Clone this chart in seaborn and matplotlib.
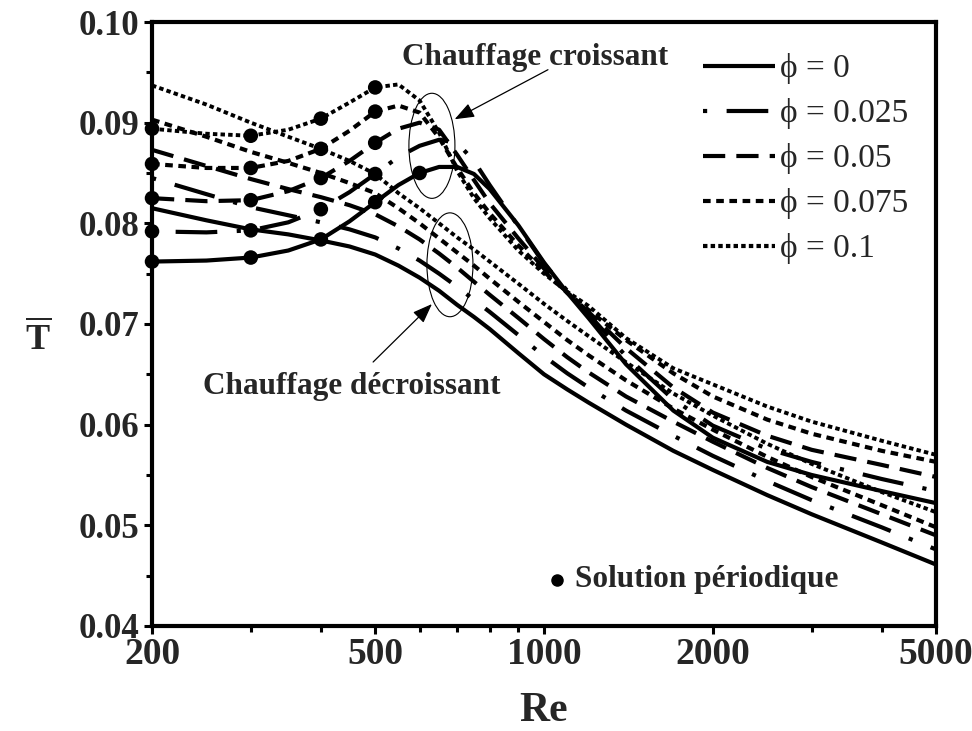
import matplotlib
matplotlib.use("Agg")
import matplotlib.pyplot as plt
import seaborn as sns
from matplotlib.patches import Ellipse
from matplotlib.ticker import FixedLocator, FixedFormatter, NullFormatter

# Reynolds numbers at which the curves are sampled
re_grid = [200, 250, 300, 350, 400, 450, 500, 550, 600, 650, 700, 750, 800,
           900, 1000, 1100, 1200, 1400, 1700, 2000, 2500, 3000, 4000, 5000]

phi_labels = ["\u03d5 = 0", "\u03d5 = 0.025", "\u03d5 = 0.05", "\u03d5 = 0.075", "\u03d5 = 0.1"]

# Mean temperature, increasing heating ("chauffage croissant")
t_inc_0 = [0.0762, 0.0763, 0.0766, 0.0773, 0.0784, 0.0802, 0.0821, 0.0838, 0.0850, 0.0856, 0.0856, 0.0849,
           0.0834, 0.0798, 0.0761, 0.0731, 0.0706, 0.0660, 0.0614, 0.0587, 0.0563, 0.0550, 0.0534, 0.0522]
t_inc_025 = [0.0792, 0.0791, 0.0793, 0.0801, 0.0814, 0.0831, 0.0849, 0.0866, 0.0877, 0.0883, 0.0880, 0.0862,
             0.0838, 0.0797, 0.0760, 0.0733, 0.0710, 0.0668, 0.0625, 0.0599, 0.0576, 0.0563, 0.0546, 0.0534]
t_inc_05 = [0.0825, 0.0822, 0.0823, 0.0832, 0.0845, 0.0862, 0.0880, 0.0894, 0.0900, 0.0893, 0.0868, 0.0843,
            0.0820, 0.0785, 0.0755, 0.0731, 0.0712, 0.0676, 0.0637, 0.0612, 0.0589, 0.0575, 0.0560, 0.0548]
t_inc_075 = [0.0859, 0.0855, 0.0855, 0.0862, 0.0874, 0.0892, 0.0911, 0.0917, 0.0910, 0.0885, 0.0855, 0.0830,
             0.0810, 0.0778, 0.0752, 0.0731, 0.0714, 0.0684, 0.0651, 0.0628, 0.0605, 0.0591, 0.0574, 0.0563]
t_inc_1 = [0.0894, 0.0889, 0.0887, 0.0893, 0.0904, 0.0920, 0.0935, 0.0938, 0.0922, 0.0890, 0.0852, 0.0825,
           0.0805, 0.0773, 0.0750, 0.0732, 0.0718, 0.0686, 0.0656, 0.0640, 0.0618, 0.0603, 0.0584, 0.0570]

# Mean temperature, decreasing heating ("chauffage décroissant")
t_dec_0 = [0.0815, 0.0803, 0.0794, 0.0789, 0.0783, 0.0777, 0.0769, 0.0758, 0.0746, 0.0733, 0.0719, 0.0707,
           0.0695, 0.0671, 0.0650, 0.0635, 0.0622, 0.0600, 0.0574, 0.0555, 0.0530, 0.0511, 0.0483, 0.0461]
t_dec_025 = [0.0845, 0.0829, 0.0816, 0.0808, 0.0801, 0.0794, 0.0786, 0.0775, 0.0763, 0.0750, 0.0737, 0.0724,
             0.0712, 0.0689, 0.0668, 0.0651, 0.0637, 0.0614, 0.0589, 0.0569, 0.0544, 0.0525, 0.0498, 0.0476]
t_dec_05 = [0.0873, 0.0857, 0.0844, 0.0834, 0.0826, 0.0818, 0.0809, 0.0797, 0.0784, 0.0770, 0.0756, 0.0742,
            0.0729, 0.0706, 0.0685, 0.0667, 0.0652, 0.0628, 0.0603, 0.0583, 0.0557, 0.0538, 0.0511, 0.0490]
t_dec_075 = [0.0903, 0.0886, 0.0871, 0.0860, 0.0850, 0.0840, 0.0830, 0.0815, 0.0800, 0.0785, 0.0771, 0.0758,
             0.0745, 0.0722, 0.0702, 0.0684, 0.0669, 0.0644, 0.0616, 0.0595, 0.0568, 0.0548, 0.0520, 0.0498]
t_dec_1 = [0.0937, 0.0918, 0.0900, 0.0886, 0.0874, 0.0862, 0.0849, 0.0830, 0.0815, 0.0800, 0.0786, 0.0774,
           0.0762, 0.0740, 0.0720, 0.0703, 0.0688, 0.0662, 0.0631, 0.0609, 0.0581, 0.0561, 0.0533, 0.0513]

# Reynolds numbers where the solution is periodic (filled dots)
periodic_re_0 = [200, 300, 400, 500, 600]
periodic_re_other = [200, 300, 400, 500]

x_ticks = [200, 500, 1000, 2000, 5000]
x_minor = [300, 400, 600, 700, 800, 900, 3000, 4000]
y_ticks = [0.04, 0.05, 0.06, 0.07, 0.08, 0.09, 0.10]
y_tick_labels = ["0.04", "0.05", "0.06", "0.07", "0.08", "0.09", "0.10"]
y_minor = [0.045, 0.055, 0.065, 0.075, 0.085, 0.095]

sns.set_theme(style="white")
plt.rcParams["font.family"] = ["Liberation Serif", "DejaVu Serif"]
plt.rcParams["mathtext.fontset"] = "custom"
plt.rcParams["mathtext.rm"] = "Liberation Serif"
plt.rcParams["mathtext.bf"] = "Liberation Serif:bold"
plt.rcParams["lines.scale_dashes"] = False

inc_curves = [t_inc_0, t_inc_025, t_inc_05, t_inc_075, t_inc_1]
dec_curves = [t_dec_0, t_dec_025, t_dec_05, t_dec_075, t_dec_1]
styles = ["-", (0, (3, 14, 30, 14)), (0, (16, 8)), (0, (5.5, 4)), (0, (3.2, 2.3))]
widths = [3.0, 3.0, 3.0, 3.0, 2.8]

fig = plt.figure(figsize=(9.72, 7.31), dpi=100)
ax = fig.add_axes([0.1564, 0.1437, 0.8066, 0.8262])

for i in range(5):
    sns.lineplot(x=re_grid, y=dec_curves[i], ax=ax, color="black", linewidth=widths[i],
                 linestyle=styles[i], dash_capstyle="butt", solid_capstyle="butt")
    sns.lineplot(x=re_grid, y=inc_curves[i], ax=ax, color="black", linewidth=widths[i],
                 linestyle=styles[i], dash_capstyle="butt", solid_capstyle="butt",
                 label=phi_labels[i])

# periodic-solution markers on the increasing-heating branch
for i in range(5):
    pts = periodic_re_0 if i == 0 else periodic_re_other
    ys = [inc_curves[i][re_grid.index(r)] for r in pts]
    sns.scatterplot(x=pts, y=ys, ax=ax, color="black", s=110, edgecolor="none",
                    clip_on=False, zorder=5)

ax.set_xscale("log")
ax.set_xlim(200, 5000)
ax.set_ylim(0.04, 0.10)
ax.xaxis.set_major_locator(FixedLocator(x_ticks))
ax.xaxis.set_major_formatter(FixedFormatter([str(v) for v in x_ticks]))
ax.xaxis.set_minor_locator(FixedLocator(x_minor))
ax.xaxis.set_minor_formatter(NullFormatter())
ax.yaxis.set_major_locator(FixedLocator(y_ticks))
ax.yaxis.set_major_formatter(FixedFormatter(y_tick_labels))
ax.yaxis.set_minor_locator(FixedLocator(y_minor))

for sp in ax.spines.values():
    sp.set_visible(True)
    sp.set_color("black")
    sp.set_linewidth(3.0)

ax.tick_params(axis="both", which="major", direction="out", length=6, width=2.2,
               color="black", bottom=True, left=True, top=False, right=False)
ax.tick_params(axis="both", which="minor", direction="out", length=4, width=2.2,
               color="black", bottom=True, left=True, top=False, right=False)
ax.tick_params(axis="x", which="major", labelsize=27, pad=2)
ax.tick_params(axis="y", which="major", labelsize=25, pad=3)
for lab in ax.get_xticklabels() + ax.get_yticklabels():
    lab.set_fontweight("bold")

ax.set_xlabel("Re", fontsize=30, fontweight="bold", labelpad=14)
ax.set_ylabel(r"$\overline{\mathbf{T}}$", fontsize=26, rotation=0, labelpad=0)
ax.yaxis.set_label_coords(-0.145, 0.445)

leg = ax.legend(loc="upper left", bbox_to_anchor=(0.7233, 0.927), bbox_transform=fig.transFigure,
                frameon=False, fontsize=24, handlelength=2.16, handletextpad=0.15,
                labelspacing=0.42, borderpad=0, borderaxespad=0)
for h in leg.get_lines():
    h.set_linewidth(3.0)

# group annotations
ax.add_patch(Ellipse((0.357, 0.795), 0.0587, 0.174, transform=ax.transAxes,
                     fill=False, edgecolor="black", linewidth=0.8, zorder=6))
ax.add_patch(Ellipse((0.380, 0.598), 0.0587, 0.172, transform=ax.transAxes,
                     fill=False, edgecolor="black", linewidth=0.8, zorder=6))

ax.text(0.4885, 0.942, "Chauffage croissant", transform=ax.transAxes, ha="center", va="center",
        fontsize=22.5, fontweight="bold")
ax.annotate("", xy=(0.386, 0.839), xytext=(0.505, 0.921), xycoords="axes fraction",
            textcoords="axes fraction",
            arrowprops=dict(arrowstyle="-|>,head_length=1.0,head_width=0.38", color="black",
                            linewidth=0.9, shrinkA=0, shrinkB=0))

ax.text(0.255, 0.397, "Chauffage d\u00e9croissant", transform=ax.transAxes, ha="center", va="center",
        fontsize=22.5, fontweight="bold")
ax.annotate("", xy=(0.357, 0.533), xytext=(0.282, 0.437), xycoords="axes fraction",
            textcoords="axes fraction",
            arrowprops=dict(arrowstyle="-|>,head_length=1.0,head_width=0.38", color="black",
                            linewidth=0.9, shrinkA=0, shrinkB=0))

ax.plot([0.5166], [0.0762], transform=ax.transAxes, marker="o", markersize=8, color="black",
        linestyle="none")
ax.text(0.5395, 0.0646, "Solution p\u00e9riodique", transform=ax.transAxes, ha="left",
        va="baseline", fontsize=22.5, fontweight="bold")

fig.savefig("out.png", dpi=100)
